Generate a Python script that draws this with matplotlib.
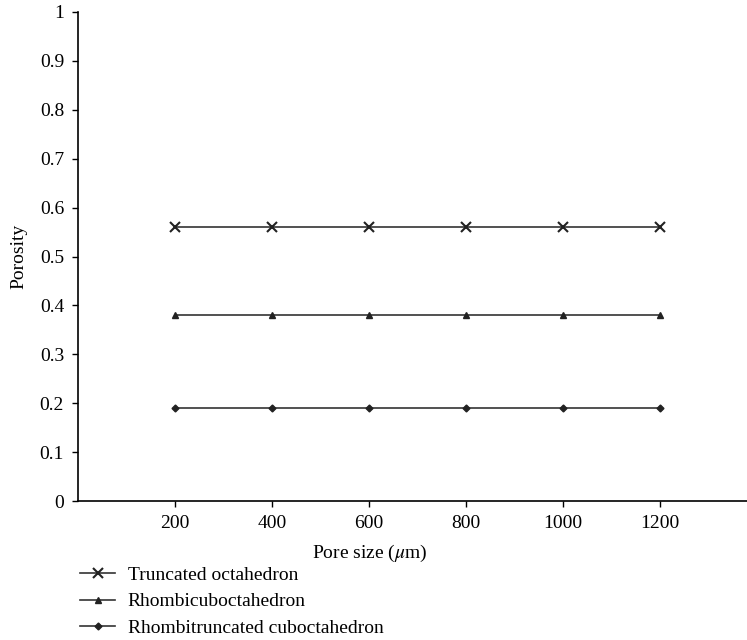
import matplotlib
matplotlib.use('Agg')
import matplotlib.pyplot as plt

plt.rcParams['font.family'] = ['Liberation Serif', 'DejaVu Serif']
plt.rcParams['mathtext.fontset'] = 'stix'

# Data
pore_size = [200, 400, 600, 800, 1000, 1200]
truncated_oct = [0.56, 0.56, 0.56, 0.56, 0.56, 0.56]
rhombicubo = [0.38, 0.38, 0.38, 0.38, 0.38, 0.38]
rhombitrunc = [0.19, 0.19, 0.19, 0.19, 0.19, 0.19]
yticks = [0, 0.1, 0.2, 0.3, 0.4, 0.5, 0.6, 0.7, 0.8, 0.9, 1]
ytick_labels = ['0', '0.1', '0.2', '0.3', '0.4', '0.5', '0.6', '0.7', '0.8', '0.9', '1']

fig = plt.figure(figsize=(7.47, 6.4), dpi=100)
ax = fig.add_axes([78/747, 1 - 501/640, 1 - 78/747, (501 - 12)/640])

lc = '#333333'
ax.plot(pore_size, truncated_oct, color=lc, lw=1.2, marker='x', ms=7, mew=1.5,
        mec='#222222', label='Truncated octahedron')
ax.plot(pore_size, rhombicubo, color=lc, lw=1.2, marker='^', ms=5,
        mfc='#222222', mec='#222222', label='Rhombicuboctahedron')
ax.plot(pore_size, rhombitrunc, color=lc, lw=1.2, marker='D', ms=3.5,
        mfc='#222222', mec='#222222', label='Rhombitruncated cuboctahedron')

ax.set_xlim(0, 1380)
ax.set_ylim(0, 1)
ax.set_xticks(pore_size)
ax.set_yticks(yticks)
ax.set_yticklabels(ytick_labels)
ax.tick_params(labelsize=14, direction='out', length=4, width=1, pad=6)
ax.spines['top'].set_visible(False)
ax.spines['right'].set_visible(False)
ax.spines['left'].set_linewidth(1.2)
ax.spines['bottom'].set_linewidth(1.2)

ax.set_xlabel(r'Pore size ($\mu$m)', fontsize=14)
ax.xaxis.set_label_coords((370 - 78) / (747 - 78), -0.085)
ax.set_ylabel('Porosity', fontsize=14)
ax.yaxis.set_label_coords(-0.075, 0.5)

fig.legend(loc='upper left', bbox_to_anchor=(80/747, 1 - 566/640), frameon=False,
           fontsize=14, handlelength=1.8, handletextpad=0.65, labelspacing=0.47,
           borderaxespad=0, borderpad=0)

fig.savefig('out.png', dpi=100)
